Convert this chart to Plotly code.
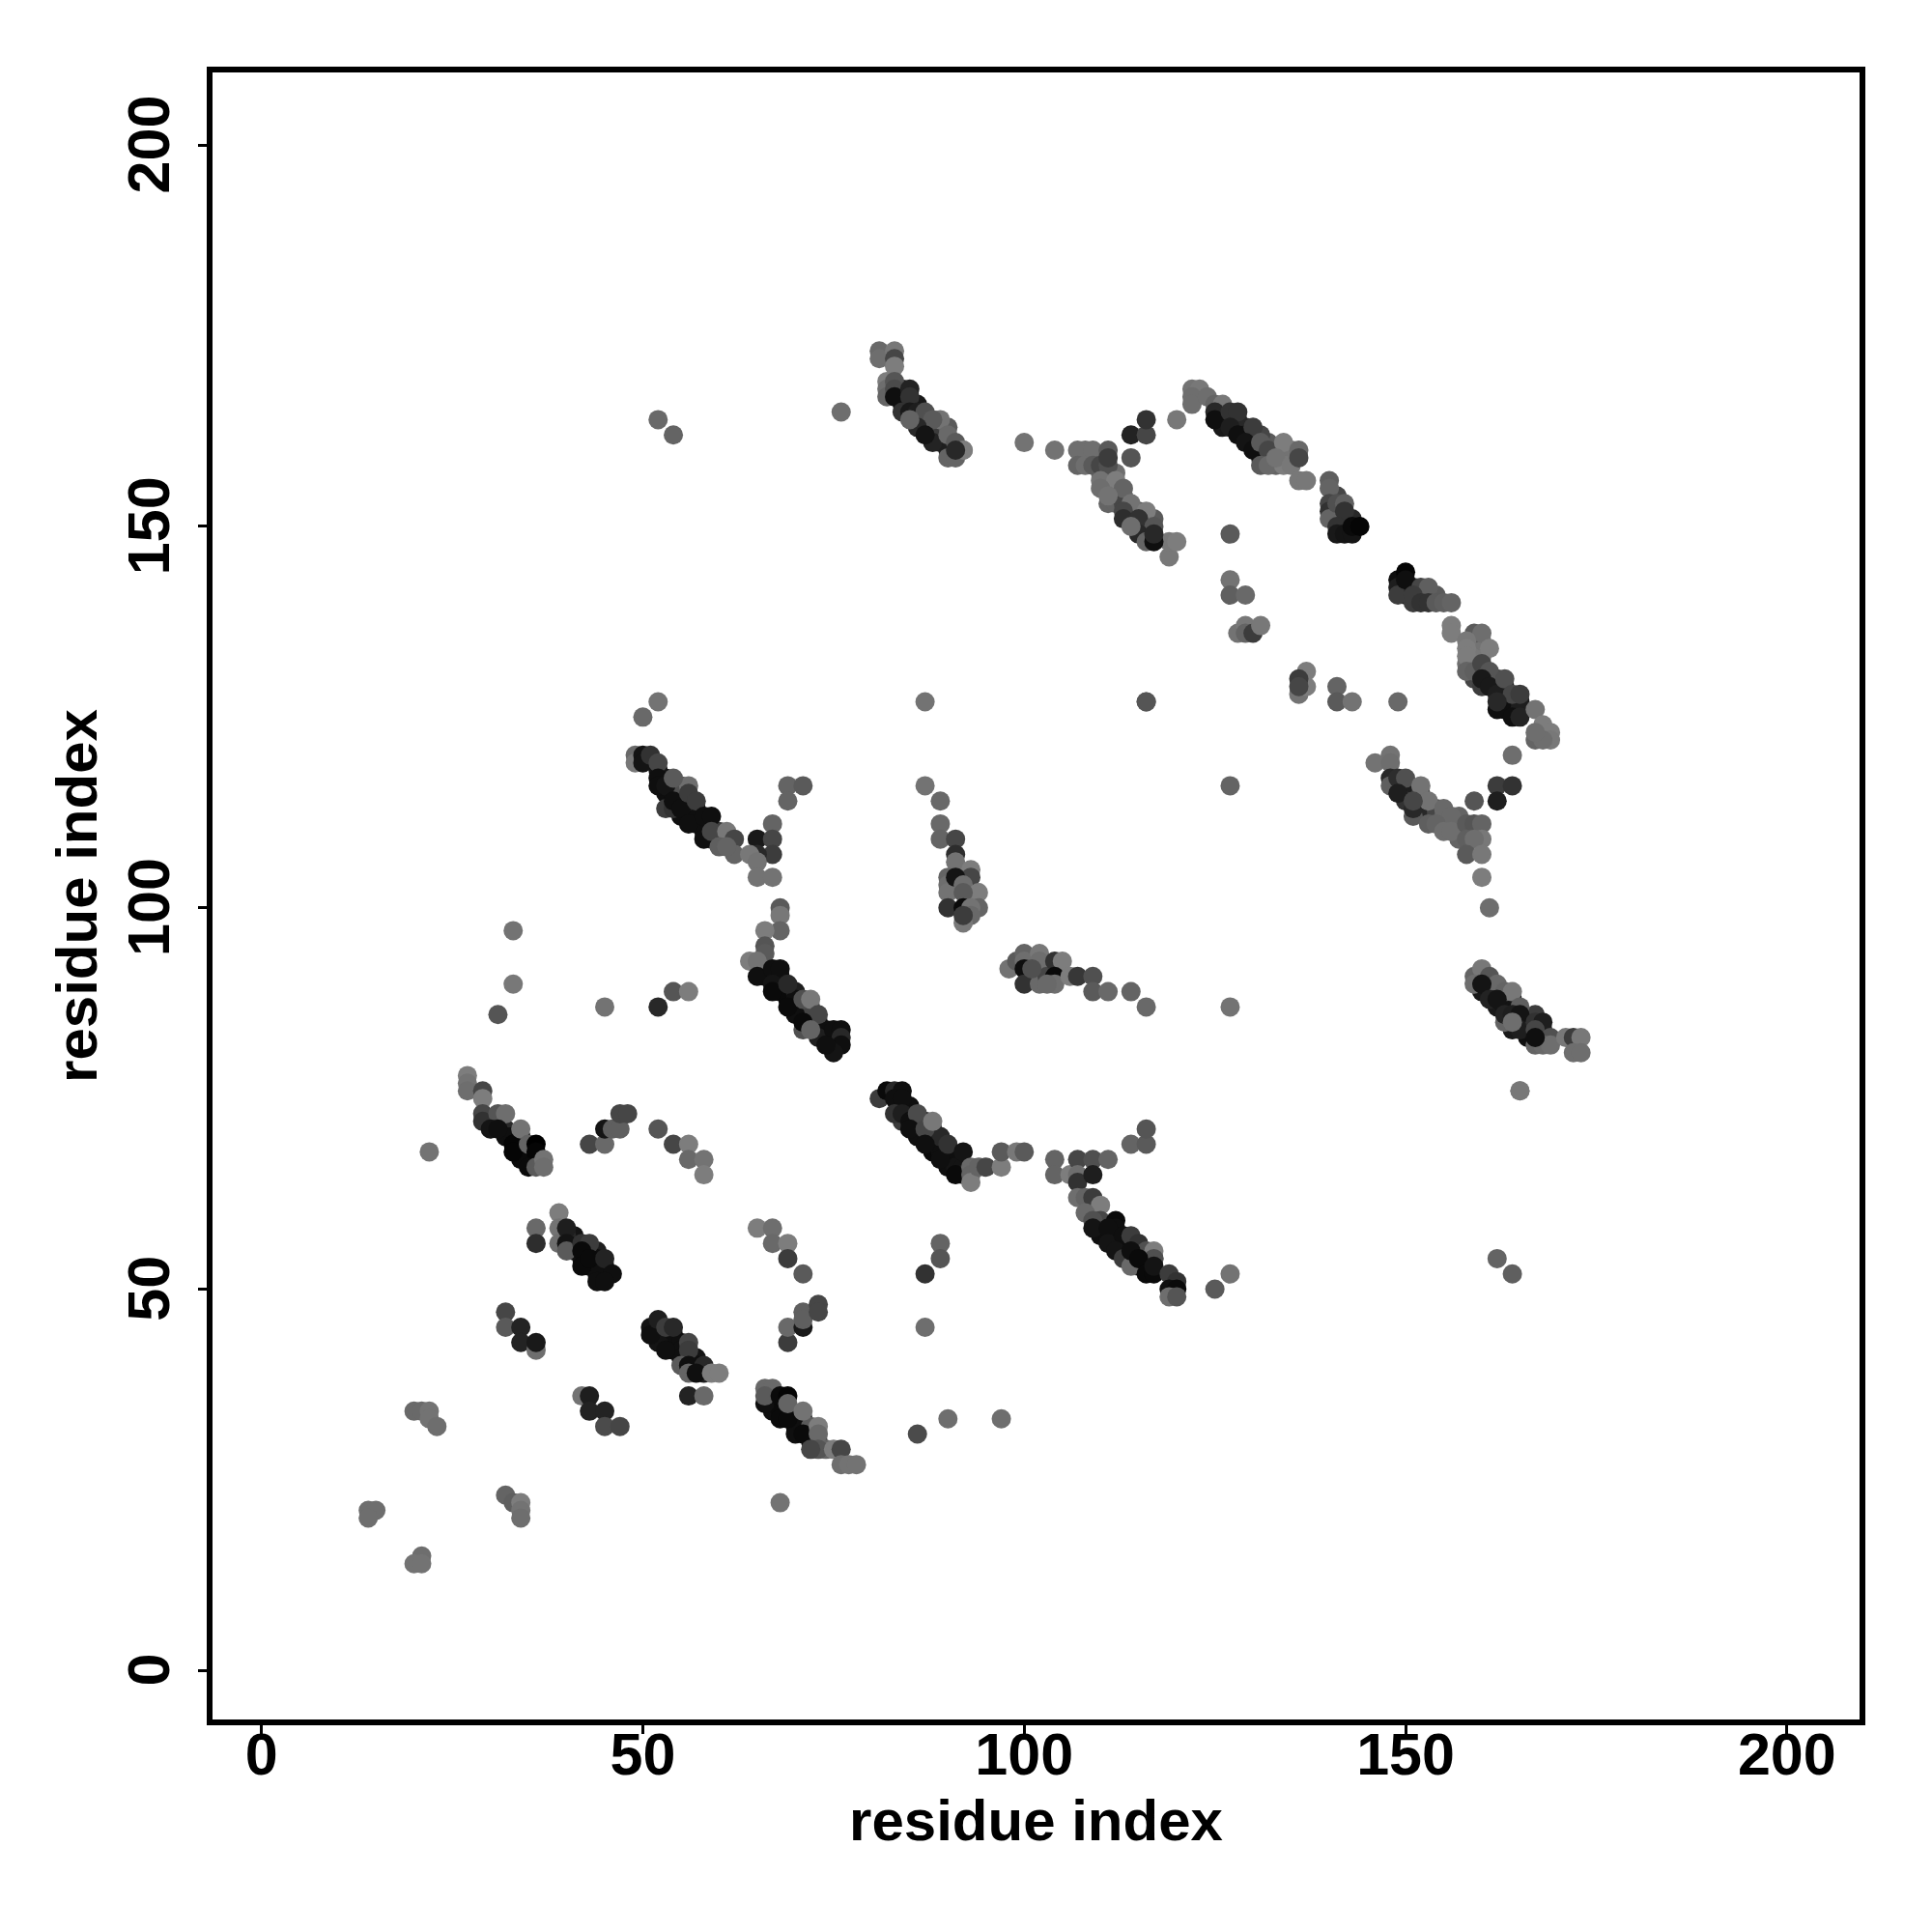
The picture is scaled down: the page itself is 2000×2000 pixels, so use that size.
import plotly.graph_objects as go

# Dense band interiors (drawn first)
u1_x = [52,53,53,54,55,55,56,56,57,57,57,58,58,59,60,60,61,53,54,55,56,54,55,56]
u1_y = [118,117,115,115,114,112,113,112,113,112,111,111,110,109,110,109,109,113,113,115,114,116,116,116]
u1_g = [20,20,15,15,15,15,15,15,15,15,15,15,15,40,60,60,90,60,50,60,40,60,80,110]

u2_x = [30,31,32,32,33,34,34,34,35,35,34,36,41,41,41,42,43,44,44,44,43,45,45,44,40]
u2_y = [72,72,71,70,70,70,69,68,68,67,67,67,57,56,55,54,55,55,54,53,53,53,52,52,57]
u2_g = [60,60,40,15,15,10,15,10,10,10,10,10,20,20,15,15,30,30,15,15,10,15,15,15,40]

u3_x = [52,52,53,53,54,54,54,55,55,55,56,57,57,58,52,67,67,67,68,68,70,70,70,71,71,72,72,72,73,74]
u3_y = [45,44,44,43,44,43,42,43,42,41,41,41,40,39,43,36,35,34,35,34,33,32,31,33,32,31,30,32,30,29]
u3_g = [15,15,15,15,15,15,15,15,15,15,15,20,15,30,20,15,15,15,10,10,30,15,15,30,15,15,20,90,60,100]

u4_x = [66,66,67,68,68,68,69,69,70,70,70,71,71,72,72,73,73,74,74,75,75,72,71,70]
u4_y = [92,91,91,91,90,89,89,88,89,88,87,87,86,86,85,85,84,84,83,83,82,87,84,86]
u4_g = [30,15,15,15,10,10,15,10,30,15,15,15,15,15,15,20,15,15,15,20,15,70,80,15]

u5_x = [84,85,85,86,86,87,87,88,88,88,89,89,90,90,90,91,91,92,92,86,85,84,88,89]
u5_y = [74,74,73,72,71,72,70,70,69,68,69,68,68,67,66,67,66,66,65,70,72,72,71,70]
u5_g = [20,15,15,15,15,20,10,15,15,10,20,15,20,15,15,15,20,20,40,15,15,60,70,40]

u6_x = [110,110,111,112,112,113,113,114,114,115,115,116,116,117]
u6_y = [58,57,57,57,56,56,55,56,54,55,53,54,53,54]
u6_g = [15,15,15,15,15,15,15,15,15,15,15,15,10,60]

u7_x = [111,112,112,112,113,113,114,114,115,116,116,115,116,117,110,111,112,109,110,108,108]
u7_y = [153,154,153,155,154,153,152,151,150,150,149,152,151,151,157,157,157,159,159,159,160]
u7_g = [100,100,100,110,100,70,60,50,50,60,40,70,70,90,100,100,110,90,90,110,110]

u8_x = [84,84,85,86,86,87,87,88,88,89,89,89,90,90,90,84]
u8_y = [166,167,166,166,164,164,163,163,162,162,161,163,161,160,163,168]
u8_g = [25,25,30,25,25,20,20,25,20,25,30,60,25,30,90,30]

u9_x = [126,126,126,127,128,128,129,129,130,130,131,131,132,133,132,133,134,135,131,135,134]
u9_y = [165,164,163,164,164,163,163,162,162,161,160,159,159,160,161,158,160,160,162,159,159]
u9_g = [30,25,25,30,40,25,40,20,20,20,25,30,60,90,90,100,110,110,70,115,115]

u10_x = [141,141,142,142,141,143,150,150,151,152,153,154]
u10_y = [152,151,151,150,154,151,142,141,140,141,141,141]
u10_g = [40,30,25,25,70,40,20,25,60,40,70,90]

u11_x = [159,159,160,161,162,162,163,163,163,163,164,164,165,165,162,159,160,159,160,160,160,158]
u11_y = [133,132,131,130,129,130,129,128,127,126,127,126,127,126,126,130,129,134,134,133,135,132]
u11_g = [110,100,40,30,15,60,25,20,15,15,15,15,30,30,15,70,60,120,120,120,115,110]

u12_x = [149,150,150,151,152,152,152,153,153,154,154,155,155,156,157,157,150,151,153,157,157]
u12_y = [116,116,115,115,115,114,113,113,112,113,112,112,111,111,111,110,114,112,111,112,109]
u12_g = [40,35,35,30,60,40,30,60,40,80,70,100,110,105,110,110,50,90,95,100,100]

u13_x = [160,160,161,161,162,162,163,163,164,164,164,165,166,166,166,167,168,168,163,164]
u13_y = [91,89,90,89,89,87,88,87,88,87,84,85,85,84,83,86,84,83,85,85]
u13_g = [20,25,20,25,20,25,25,20,30,20,25,20,40,40,15,60,40,10,100,90]

# Contact clusters: residue i, residue j, grey level of each dot
a_x = [27,27,27,29,29,29,29,31,32,30,31,33,33,34,35,36,36,35,36,37,37]
a_y = [78,77,76,76,75,73,72,73,73,71,71,69,68,71,69,69,68,66,66,67,66]
a_g = [125,115,110,70,125,70,50,85,110,20,15,5,5,115,100,0,5,10,90,115,110]

b_x = [43,45,45,46,47,47,48,52,54,56,56,58,58]
b_y = [69,69,71,71,71,73,73,71,69,69,67,67,65]
b_g = [70,105,20,95,95,70,70,85,70,125,105,115,125]

c_x = [36,36,39,39,39,40,40,40,42,43,42,42,43,45,44,46,45]
c_y = [58,56,60,58,56,58,56,55,56,56,55,53,54,54,51,52,51]
c_g = [105,45,125,115,110,30,20,90,50,60,10,10,10,35,15,15,15]

d_x = [32,32,34,34,36,36]
d_y = [47,45,45,43,42,43]
d_g = [70,90,35,35,110,25]

e_x = [51,51,52,53,54,53,56,56,55,56,58,56,57,59,60,56,58]
e_y = [45,44,46,45,45,42,43,42,40,40,40,39,39,39,39,36,36]
e_g = [20,15,30,60,40,15,70,60,90,15,40,100,15,125,125,35,105]

f_x = [69,69,71,71,71,73,73,65,67,67,69,69,71]
f_y = [43,45,45,47,46,48,47,58,58,56,56,54,52]
f_g = [60,105,25,95,95,70,70,125,110,105,125,60,90]

g_x = [66,67,66,66,68,69,68,69,69,71,71,73,73,73,72,75,76,76,77,78]
g_y = [37,37,35,36,36,36,33,33,35,34,31,32,31,29,29,29,29,27,27,27]
g_g = [105,105,15,90,10,5,10,10,100,115,10,125,105,85,70,125,70,110,115,115]

h_x = [42,43,43,45,45,47,20,21,22,22,23,32,33,34,34,34]
h_y = [36,36,34,34,32,32,34,34,34,33,32,23,22,22,21,20]
h_g = [115,30,35,35,75,70,105,105,115,115,110,100,95,125,115,110]

i_x = [68,14,15,14,21,20,21,86,90,97,87,89,89,87,22,33,33,31,45,52,54,56]
i_y = [22,21,21,20,15,14,14,31,33,33,52,56,54,45,68,97,90,86,87,87,89,89]
i_g = [115,110,110,110,110,115,115,75,110,110,50,100,85,110,115,115,120,85,115,40,85,125]

j_x = [50,52,87,116,127,127,76,52,54,100,104,92]
j_y = [125,127,127,127,116,87,165,164,162,161,160,160]
j_g = [105,115,115,95,100,115,110,105,100,115,115,105]

k_x = [49,49,50,50,51,52,52,52,53,54,54,55,56,57,56,58,59,58,59,61,62,60,62,61]
k_y = [120,119,120,119,120,119,117,116,116,117,114,113,115,114,111,112,112,109,110,110,109,108,107,108]
k_g = [105,120,20,20,50,70,15,15,20,90,15,15,60,60,15,15,15,15,70,120,70,95,100,100]

l_x = [69,71,69,67,65,67,67,65,64,65,65,67,68,68,68,66]
l_y = [116,116,114,111,109,109,107,107,107,106,104,104,100,99,97,97]
l_g = [100,90,100,100,25,70,60,40,120,115,115,115,90,120,100,125]

m_x = [66,66,64,65,65,67,68,67,67,69,69,71,72,73,71,73,72,75,76,76,76,75,74]
m_y = [95,94,93,93,91,92,92,90,89,90,87,88,88,86,85,83,84,84,84,83,82,81,82]
m_g = [85,90,125,115,15,15,15,20,10,40,10,80,120,70,10,30,100,15,15,40,15,20,15]

n_x = [81,82,83,84,83,84,83,84,85,86,85,87,88,87,89,90,92,91,93,93,93,94,95,97,97,99,100]
n_y = [75,76,76,76,75,75,73,73,72,73,71,71,72,69,67,69,68,65,66,65,64,66,66,66,68,68,68]
n_g = [60,10,40,15,15,15,50,30,15,75,15,70,120,15,15,50,20,10,105,100,125,100,70,125,90,120,90]

o_x = [104,104,106,107,109,111,114,116,116,107,107,109,107,108,109,110,108,110,109,112,112,109,111,111]
o_y = [67,65,65,67,67,67,69,69,71,65,64,65,62,62,62,61,60,59,59,59,58,58,58,56]
o_g = [100,100,125,70,80,100,100,90,85,110,50,30,110,100,60,125,105,70,80,10,15,20,15,20]

p_x = [113,114,115,116,117,117,112,113,114,114,115,116,117,117,119,120,119,120,119,120,125,127]
p_y = [57,57,56,55,55,54,55,54,53,55,54,52,52,53,52,51,50,50,49,49,50,52]
p_g = [15,60,50,80,125,80,20,60,105,15,10,10,10,20,60,50,15,10,110,85,90,115]

q_x = [87,89,89,89,91,91,91,93,93,90,90,90,91,92,94,92,90,92,94,93,93,92,92]
q_y = [116,114,111,109,109,107,106,105,104,104,103,102,104,103,102,102,100,100,100,100,99,98,99]
q_g = [115,105,105,100,70,45,115,125,70,100,110,115,20,110,125,90,50,10,100,115,105,120,60]

r_x = [98,99,100,100,100,100,102,102,102,103,104,105,104,104,103,101,106,107,109,109,111,114,116]
r_y = [92,93,94,93,92,90,94,93,90,91,93,93,91,90,90,92,91,91,91,89,89,89,87]
r_g = [115,90,100,110,15,50,120,110,105,70,50,125,10,110,105,80,125,55,80,90,105,100,105]

s_x = [107,109,111,107,108,109,110,111,111,114,114,116,116,120,122,123,122,122,124,125,126]
s_y = [160,160,160,158,158,158,158,158,159,159,162,162,164,164,168,168,167,166,167,166,166]
s_g = [110,110,90,100,110,90,70,80,60,85,35,70,50,120,115,120,110,110,110,100,120]

t_x = [125,125,127,128,127,128,130,129,130,131,132,131,132,134,134,133,135,136,136,136,137]
t_y = [165,164,165,165,163,162,163,161,160,161,160,158,158,161,158,159,158,160,159,156,156]
t_g = [40,15,50,50,30,15,60,20,15,90,70,90,105,125,125,115,120,105,70,120,120]

u_x = [140,140,140,140,140,141,142,142,141,141,142,143,143,144]
u_y = [156,155,153,152,151,153,153,152,150,149,149,149,150,150]
u_g = [95,100,70,50,100,80,95,50,50,25,20,20,10,5]

v_x = [149,150,149,149,151,150,152,153,151,152,153,154,155,156,156,156]
v_y = [143,144,142,141,142,143,142,142,141,140,140,140,140,140,137,136]
v_g = [15,5,30,60,40,15,70,95,60,50,50,90,95,100,125,125]

w_x = [159,160,158,161,158,158,158,159,160,161,160,161,162,163,164,165,162,164,165,167,167,168,169,169,168,167]
w_y = [136,136,135,134,134,133,131,131,132,131,130,129,128,130,128,128,127,125,125,126,122,124,123,122,122,123]
w_g = [90,110,120,125,125,125,100,95,70,85,25,25,30,80,70,60,40,15,35,115,100,125,125,120,110,110]

x_x = [164,162,164,162,159,148,146,148,148,148,149,150,152,149,151,153,151,155,156,154,155,156]
x_y = [120,116,116,114,114,120,119,119,117,116,117,117,116,115,113,114,114,113,112,111,110,110]
x_g = [110,60,50,30,85,115,115,110,40,95,45,80,115,30,40,115,70,105,105,100,110,110]

y_x = [158,159,160,158,160,159,158,160,160,161,162,164,165,127,127,127,129,128,129,129,130,131]
y_y = [111,111,111,109,109,109,107,107,104,100,54,52,76,149,143,141,141,136,137,136,136,137]
y_g = [90,85,100,95,120,110,90,120,125,110,100,95,120,90,115,95,105,115,120,100,60,120]

z_x = [136,137,137,136,136,141,141,143,149,116,119,119,120]
z_y = [128,129,131,130,129,129,127,127,127,127,146,148,148]
z_g = [115,125,125,60,70,100,90,115,105,85,120,120,125]

aa_x = [110,112,110,113,111,114,113,116,113,115,117,115,116,117,117,114]
aa_y = [156,156,155,155,154,153,152,152,151,151,150,149,148,148,149,150]
aa_g = [115,125,110,100,115,115,70,125,45,50,85,40,100,15,40,110]

ab_x = [81,81,83,83,83,82,82,82,83,83,83,85,85,84,85,86,87,89,88,86,88,87,90,91,90,91,92,91,85]
ab_y = [173,172,173,172,171,169,168,167,169,168,167,168,167,165,165,165,165,164,164,163,161,162,162,161,159,159,160,160,164]
ab_g = [105,110,120,70,125,125,110,100,85,75,15,35,50,50,25,30,80,115,90,40,35,20,105,90,100,100,125,40,100]

ac_x = [159,160,159,161,162,160,161,163,164,162,165,163,164,165,165,164,167,168,167,169,167,168,169,167,171,172,173,172,173,165]
ac_y = [91,92,90,91,90,90,88,89,89,88,87,86,86,86,84,85,85,85,84,83,82,82,82,83,83,83,83,81,81,76]
ac_g = [100,120,110,85,105,20,35,100,120,20,95,35,30,20,30,110,50,30,70,80,100,105,110,15,120,60,120,110,110,120]

clusters = [
    (u1_x, u1_y, u1_g), (u2_x, u2_y, u2_g), (u3_x, u3_y, u3_g), (u4_x, u4_y, u4_g), (u5_x, u5_y, u5_g),
    (u6_x, u6_y, u6_g), (u7_x, u7_y, u7_g), (u8_x, u8_y, u8_g), (u9_x, u9_y, u9_g), (u10_x, u10_y, u10_g),
    (u11_x, u11_y, u11_g), (u12_x, u12_y, u12_g), (u13_x, u13_y, u13_g),
    (a_x, a_y, a_g), (b_x, b_y, b_g), (c_x, c_y, c_g), (d_x, d_y, d_g), (e_x, e_y, e_g),
    (f_x, f_y, f_g), (g_x, g_y, g_g), (h_x, h_y, h_g), (i_x, i_y, i_g), (j_x, j_y, j_g),
    (k_x, k_y, k_g), (l_x, l_y, l_g), (m_x, m_y, m_g), (n_x, n_y, n_g), (o_x, o_y, o_g),
    (p_x, p_y, p_g), (q_x, q_y, q_g), (r_x, r_y, r_g), (s_x, s_y, s_g), (t_x, t_y, t_g),
    (u_x, u_y, u_g), (v_x, v_y, v_g), (w_x, w_y, w_g), (x_x, x_y, x_g), (y_x, y_y, y_g),
    (z_x, z_y, z_g), (aa_x, aa_y, aa_g), (ab_x, ab_y, ab_g), (ac_x, ac_y, ac_g),
]
axis_ticks = [0, 50, 100, 150, 200]
axis_title = "residue index"
FONT = "Liberation Sans"

fig = go.Figure()
for cx, cy, cg in clusters:
    assert len(cx) == len(cy) == len(cg), (cx, cy, cg)
    fig.add_trace(go.Scatter(
        x=cx, y=cy, mode="markers", hoverinfo="skip", showlegend=False,
        marker=dict(size=20, line=dict(width=0),
                    color=[f"rgb({v},{v},{v})" for v in cg]),
    ))

axis_style = dict(
    tickmode="array", tickvals=axis_ticks,
    ticks="outside", ticklen=9, tickwidth=3, tickcolor="black",
    showgrid=False, zeroline=False, showline=True, linecolor="black", linewidth=6,
    mirror=True, tickfont=dict(family=FONT, size=61, color="black", weight="bold"),
)
title_font = dict(family=FONT, size=60, color="black", weight="bold")
fig.update_xaxes(range=[-6.42, 209.52], ticklabelstandoff=-31,
                 ticktext=[str(t) for t in axis_ticks],
                 title=dict(text=axis_title, standoff=16, font=title_font), **axis_style)
# trailing no-break space recentres the rotated labels on their ticks
fig.update_yaxes(range=[-6.42, 209.52], ticklabelstandoff=6,
                 ticktext=[f"{t}\u00a0" for t in axis_ticks],
                 title=dict(text=axis_title, standoff=2, font=title_font),
                 tickangle=-90, **axis_style)
fig.update_layout(width=2000, height=2000, autosize=False,
                  margin=dict(l=212, r=83, t=67, b=228, autoexpand=False),
                  paper_bgcolor="white", plot_bgcolor="white")
fig.write_html("out.html")
